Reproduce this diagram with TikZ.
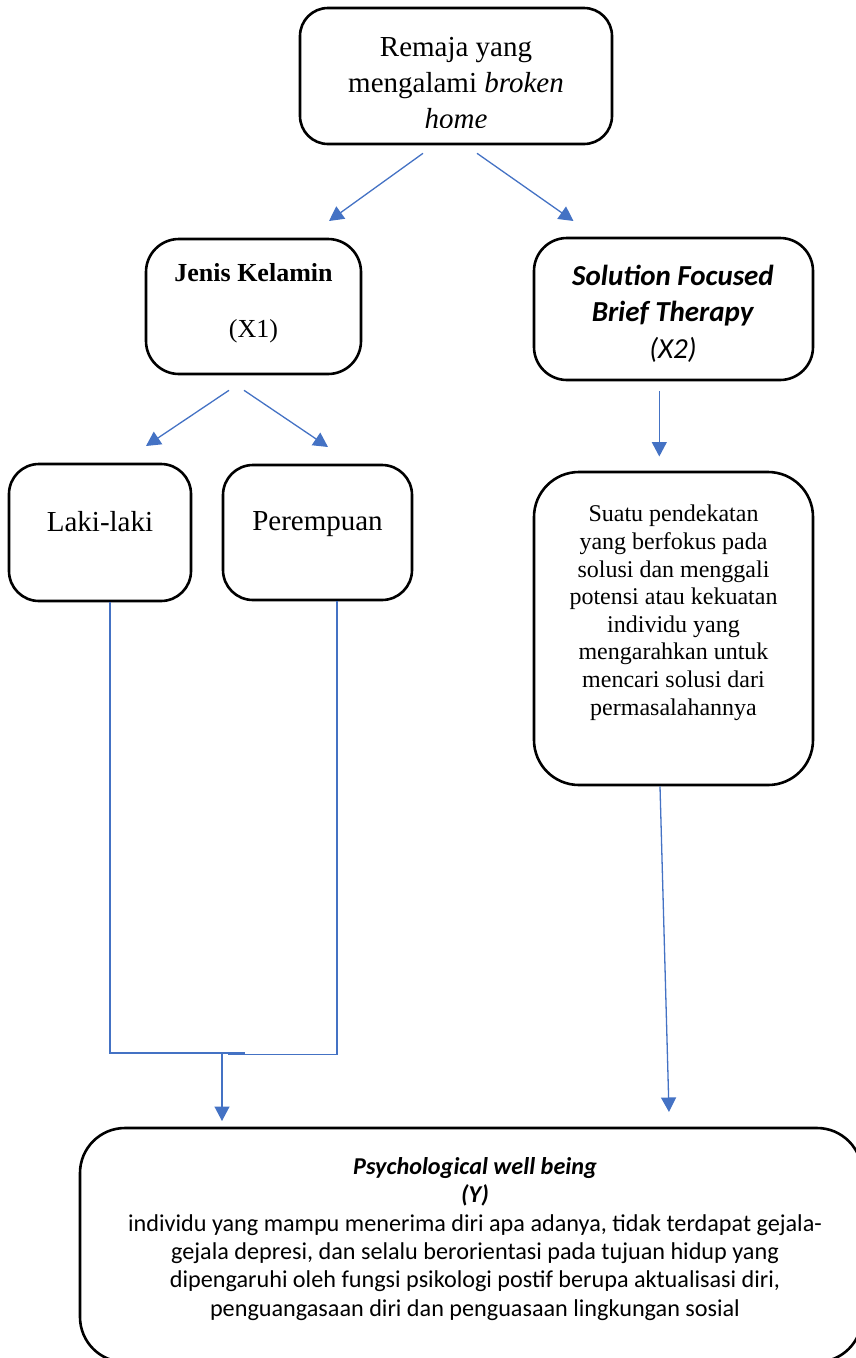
\documentclass[tikz,border=0pt]{standalone}
\usepackage{fontspec}
\setmainfont{Liberation Serif}
\newfontfamily\calfont{Carlito}
\usetikzlibrary{arrows.meta,calc}
\definecolor{arrowblue}{HTML}{4472C4}
\tikzset{
  box/.style={draw=black, line width=2.6pt, rounded corners=#1, rectangle, inner sep=0pt},
  box/.default=30pt,
  conn/.style={draw=arrowblue, line width=1.3pt},
  arr/.style={conn, -{Triangle[length=14.5pt,width=15pt]}},
  txt/.style={inner sep=0pt, align=center},
}
\begin{document}
\begin{tikzpicture}[x=1pt,y=-1pt]
\useasboundingbox (0,0) rectangle (856,1358);
\clip (0,0) rectangle (856,1358);

% boxes
\node[box=28pt, minimum width=312pt, minimum height=136pt] (top) at (456,76) {};
\node[box=33pt, minimum width=215pt, minimum height=135pt] (jenis) at (253.5,306.5) {};
\node[box=33pt, minimum width=279pt, minimum height=142pt] (sfbt) at (673.5,309) {};
\node[box=30pt, minimum width=182pt, minimum height=137pt] (laki) at (100,532.5) {};
\node[box=30pt, minimum width=189pt, minimum height=135pt] (perem) at (317.5,532.5) {};
\node[box=45pt, minimum width=279pt, minimum height=313pt] (desc) at (673.5,628.5) {};
\node[box=45pt, minimum width=782pt, minimum height=234pt] (pwb) at (471,1245) {};

% texts
\begin{scope}
  \clip (300,8) rectangle (612,127.3);
  \node[txt, font=\fontsize{29}{36}\selectfont] (topT) at (456,82.6)
    {Remaja yang\\mengalami \textit{broken}\\\textit{home}};
\end{scope}
\node[txt, font=\fontsize{26}{36}\selectfont] (jenisT) at (253.5,303.7)
  {\textbf{Jenis Kelamin}\\[20pt](X1)};
\node[txt, font=\calfont\fontsize{29}{36.5}\selectfont] (sfbtT) at (673,313.4)
  {\textbf{\textit{Solution Focused}}\\\textbf{\textit{Brief Therapy}}\\\textit{(X2)}};
\node[txt, anchor=base, font=\fontsize{29}{36}\selectfont] (lakiT) at (100,531) {Laki-laki};
\node[txt, anchor=base, font=\fontsize{29}{36}\selectfont] (peremT) at (317.5,530) {Perempuan};
\node[txt, font=\fontsize{24}{27.6}\selectfont] (descT) at (673.5,612.8)
  {Suatu pendekatan\\yang berfokus pada\\solusi dan menggali\\potensi atau kekuatan\\individu yang\\mengarahkan untuk\\mencari solusi dari\\permasalahannya};
\node[txt, font=\calfont\fontsize{24.2}{28.3}\selectfont] (pwbT) at (475,1239)
  {\textbf{\textit{Psychological well being}}\\\textbf{\textit{(Y)}}\\
   individu yang mampu menerima diri apa adanya, tidak terdapat gejala-\\
   gejala depresi, dan selalu berorientasi pada tujuan hidup yang\\
   dipengaruhi oleh fungsi psikologi postif berupa aktualisasi diri,\\
   penguangasaan diri dan penguasaan lingkungan sosial};

% connector points
\coordinate (topL) at ($(top.south)+(-33,8)$);
\coordinate (topR) at ($(top.south)+(21,8)$);
\coordinate (jenisIn) at (329,221);
\coordinate (sfbtIn) at (573.5,221);
\coordinate (jenisL) at ($(jenis.south)+(-24.5,15)$);
\coordinate (jenisR) at ($(jenis.south)+(-9.5,15)$);
\coordinate (lakiIn) at (146,446);
\coordinate (peremIn) at (328,447);
\coordinate (sfbtOut) at ($(sfbt.south)+(-14.2,10)$);
\coordinate (descIn) at (659.3,456.5);
\coordinate (descOut) at ($(desc.south)+(-13.5,0)$);
\coordinate (pwbInR) at (669,1112);
\coordinate (lakiOut) at ($(laki.south)+(10,0)$);
\coordinate (peremOut) at ($(perem.south)+(19.5,0)$);
\coordinate (mergeL) at (245,1053);
\coordinate (mergeR) at (228,1054.5);
\coordinate (mergeC) at (222,1054);
\coordinate (pwbInL) at (222,1121);

% connectors
\draw[arr] (topL) -- (jenisIn);
\draw[arr] (topR) -- (sfbtIn);
\draw[arr] (jenisL) -- (lakiIn);
\draw[arr] (jenisR) -- (peremIn);
\draw[arr] (sfbtOut) -- (descIn);
\draw[arr] (descOut) -- (pwbInR);
\draw[conn] (lakiOut) |- (mergeL);
\draw[conn] (peremOut) |- (mergeR);
\draw[arr] (mergeC) -- (pwbInL);
\end{tikzpicture}
\end{document}
